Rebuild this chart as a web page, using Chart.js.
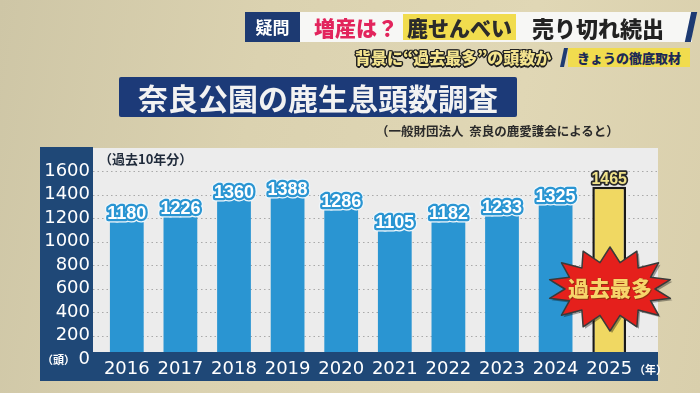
<!DOCTYPE html>
<html lang="ja">
<head>
<meta charset="utf-8">
<script src="https://cdn.jsdelivr.net/npm/chart.js@4"></script>
<style>
  body {
    margin: 0; width: 700px; height: 393px; overflow: hidden; position: relative;
    background: linear-gradient(100deg, #cec6a6 0%, #dbd2b0 35%, #e0d7b5 70%, #d9cfac 100%);
    font-family: "Noto Sans CJK JP", sans-serif;
  }
  #chart { position: absolute; left: 0; top: 0; }
  .abs { position: absolute; white-space: nowrap; }
  #band { left: 245px; top: 12px; width: 447px; height: 30px; background: #f7f7f5; }
  #q { left: 245px; top: 12px; width: 55px; height: 30px; background: #1d3a72; color: #fff;
       font-size: 17px; font-weight: 700; line-height: 30px; text-align: center; }
  #pink { left: 314px; top: 12px; color: #e2245c; font-size: 21px; font-weight: 900; line-height: 30px; }
  #yel { left: 403px; top: 14px; height: 26px; padding: 0 4px; background: #f1dc4e; color: #2b2b2b;
         font-size: 21px; font-weight: 900; line-height: 26px; }
  #sold { left: 532px; top: 12px; color: #222; font-size: 22px; font-weight: 900; line-height: 30px; }
  #slash { left: 688px; top: 12px; width: 6px; height: 30px; background: #1d3a72; transform: skewX(-12deg); }
  #bg2 { left: 355px; top: 47px; color: #f3e38e; font-size: 16px; font-weight: 900; line-height: 20px;
         text-shadow: -1px -1px 0 #222, 1px -1px 0 #222, -1px 1px 0 #222, 1px 1px 0 #222,
                      0 -1.5px 0 #222, 0 1.5px 0 #222, -1.5px 0 0 #222, 1.5px 0 0 #222; }
  #slash2 { left: 562px; top: 48px; width: 4px; height: 19px; background: #1d3a72; transform: skewX(-12deg); }
  #tag { left: 568px; top: 48px; width: 122px; height: 19px; background: #f1dc4e; color: #1d2a55;
         font-size: 13px; font-weight: 900; line-height: 19px; text-align: center; }
  #title { left: 119px; top: 77px; width: 398px; height: 40px; background: #1c3a78; color: #f2f2f2;
           font-size: 30px; font-weight: 700; line-height: 40px; text-align: center; border-radius: 2px; }
  #src { left: 376px; top: 122px; color: #2a2a2a; font-size: 12.5px; font-weight: 700; line-height: 18px; }
  #span10 { left: 99px; top: 150px; color: #1f2a3a; font-size: 13px; font-weight: 700; line-height: 18px; }
  #unitY { left: 42px; top: 352px; color: #fff; font-size: 11px; font-weight: 700; line-height: 14px; }
  #unitX { left: 634px; top: 362px; color: #fff; font-size: 11px; font-weight: 700; line-height: 14px; }
  #star { left: 544px; top: 245px; }
  #starText { left: 549px; top: 272px; width: 122px; text-align: center; color: #f7d56a;
              font-size: 21px; font-weight: 900; line-height: 30px;
              text-shadow: 0 0 1px #8a2a10, 1px 1px 0 #9a3010; }
</style>
</head>
<body>
<canvas id="chart" width="700" height="393"></canvas>

<div class="abs" id="band"></div>
<div class="abs" id="q">疑問</div>
<div class="abs" id="pink">増産は？</div>
<div class="abs" id="yel">鹿せんべい</div>
<div class="abs" id="sold">売り切れ続出</div>
<div class="abs" id="slash"></div>
<div class="abs" id="bg2">背景に“過去最多”の頭数か</div>
<div class="abs" id="slash2"></div>
<div class="abs" id="tag">きょうの徹底取材</div>
<div class="abs" id="title">奈良公園の鹿生息頭数調査</div>
<div class="abs" id="src">（一般財団法人&nbsp;&nbsp;奈良の鹿愛護会によると）</div>
<div class="abs" id="span10">（過去10年分）</div>
<div class="abs" id="unitY">（頭）</div>
<div class="abs" id="unitX">（年）</div>
<svg class="abs" id="star" width="132" height="88"></svg>
<div class="abs" id="starText">過去最多</div>

<script>
// data
const years = ['2016', '2017', '2018', '2019', '2020', '2021', '2022', '2023', '2024', '2025'];
const deerCount = [1180, 1226, 1360, 1388, 1286, 1105, 1182, 1233, 1325, 1465];
const yMax = 1600;
const yStep = 200;

const navy = '#1f4877';
const blue = '#2a95d2';
const lastIdx = years.length - 1;

// starburst behind "過去最多"
(function () {
    const svg = document.getElementById('star');
    const cx = 66, cy = 44, spikes = 14;
    let pts = [];
    for (let i = 0; i < spikes * 2; i++) {
        const a = Math.PI * i / spikes - Math.PI / 2;
        const outer = i % 2 === 0;
        const rx = outer ? 62 : 45;
        const ry = outer ? 42 : 27;
        pts.push((cx + rx * Math.cos(a)).toFixed(1) + ',' + (cy + ry * Math.sin(a)).toFixed(1));
    }
    svg.innerHTML =
        '<polygon points="' + pts.join(' ') + '" transform="translate(2,2)" fill="rgba(0,0,0,0.35)"/>' +
        '<polygon points="' + pts.join(' ') + '" fill="#e5201c" stroke="#3a3a3a" stroke-width="1.5" stroke-linejoin="round"/>';
})();

const panelPlugin = {
    id: 'panel',
    beforeDraw(chart) {
        const ctx = chart.ctx;
        const y = chart.scales.y;
        ctx.save();
        // light plot panel
        ctx.fillStyle = '#ececec';
        ctx.fillRect(93, 148, 565, 233);
        // navy left column
        ctx.fillStyle = navy;
        ctx.fillRect(40, 147, 53, 234);
        // dotted grid
        ctx.strokeStyle = '#a9a9a9';
        ctx.lineWidth = 1;
        ctx.setLineDash([1.5, 3]);
        for (let v = yStep; v <= yMax; v += yStep) {
            const py = Math.round(y.getPixelForValue(v)) + 0.5;
            ctx.beginPath();
            ctx.moveTo(93, py);
            ctx.lineTo(658, py);
            ctx.stroke();
        }
        ctx.restore();
    },
    afterDatasetsDraw(chart) {
        const ctx = chart.ctx;
        const meta = chart.getDatasetMeta(0);
        ctx.save();
        ctx.textAlign = 'center';
        ctx.textBaseline = 'alphabetic';
        ctx.lineJoin = 'round';
        meta.data.forEach((bar, i) => {
            const txt = String(deerCount[i]);
            const ty = bar.y - 1;
            if (i === lastIdx) {
                ctx.font = 'bold 16px "Liberation Sans"';
                ctx.strokeStyle = '#2a2a2a';
                ctx.lineWidth = 3.5;
                ctx.strokeText(txt, bar.x, ty - 2);
                ctx.fillStyle = '#f2e48c';
                ctx.fillText(txt, bar.x, ty - 2);
            } else {
                ctx.font = 'bold 18px "Liberation Sans"';
                ctx.strokeStyle = '#eef6fb';
                ctx.lineWidth = 7;
                ctx.strokeText(txt, bar.x, ty);
                ctx.strokeStyle = blue;
                ctx.lineWidth = 4.5;
                ctx.strokeText(txt, bar.x, ty);
                ctx.fillStyle = '#ffffff';
                ctx.fillText(txt, bar.x, ty);
            }
        });
        // navy bottom strip over the bar feet
        ctx.fillStyle = navy;
        ctx.fillRect(40, 352, 618, 29);
        ctx.restore();
    }
};

new Chart(document.getElementById('chart').getContext('2d'), {
    type: 'bar',
    data: {
        labels: years,
        datasets: [{
            data: deerCount,
            backgroundColor: deerCount.map((v, i) => i === lastIdx ? '#f0d862' : blue),
            borderColor: deerCount.map((v, i) => i === lastIdx ? '#1a1a1a' : blue),
            borderWidth: deerCount.map((v, i) => i === lastIdx ? 2.5 : 0),
            borderSkipped: false,
            barPercentage: 0.63,
            categoryPercentage: 1
        }]
    },
    options: {
        responsive: false,
        animation: false,
        layout: { padding: { left: 40, top: 171, right: 64, bottom: 12 } },
        plugins: { legend: { display: false }, tooltip: { enabled: false } },
        scales: {
            x: {
                grid: { display: false, drawTicks: false },
                border: { display: false },
                afterFit(s) { s.height = 22; },
                ticks: {
                    z: 1,
                    autoSkip: false,
                    maxRotation: 0,
                    padding: 0,
                    color: '#ffffff',
                    font: { family: '"DejaVu Sans"', size: 18 }
                }
            },
            y: {
                min: 0,
                max: yMax,
                grid: { display: false, drawTicks: false },
                border: { display: false },
                afterFit(s) { s.width = 60; },
                ticks: {
                    z: 1,
                    stepSize: yStep,
                    autoSkip: false,
                    padding: 10,
                    color: '#ffffff',
                    font: { family: '"DejaVu Sans"', size: 18 },
                    callback: (v) => String(v)
                }
            }
        }
    },
    plugins: [panelPlugin]
});
</script>
</body>
</html>
